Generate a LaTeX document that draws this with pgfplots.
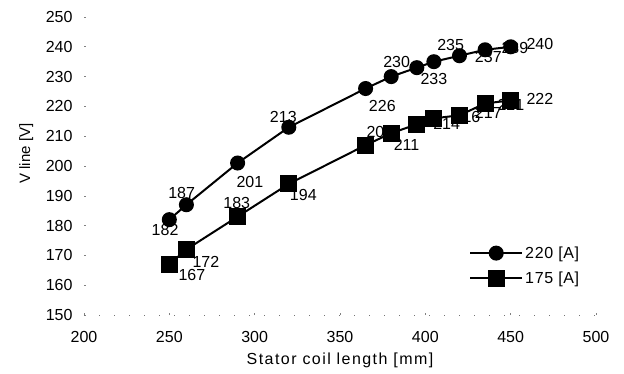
\documentclass[border=0pt]{standalone}
\usepackage{fontspec}
\setmainfont{Liberation Sans}
\newfontfamily\spaced[LetterSpace=9]{Liberation Sans}
\newfontfamily\lspaced[LetterSpace=4]{Liberation Sans}
\usepackage{pgfplots}
\pgfplotsset{compat=1.18}
\begin{document}
\begin{tikzpicture}[x=1bp,y=1bp]
\useasboundingbox (0,0) rectangle (624,373);
\begin{axis}[
  at={(84bp,58bp)}, anchor=south west,
  scale only axis, width=512bp, height=298bp,
  xmin=200, xmax=500, ymin=150, ymax=250,
  xtick={200,250,...,500}, ytick={150,160,...,250},
  axis x line*=bottom, axis y line*=left,
  x axis line style={black!55, dash pattern=on 1bp off 14bp, -},
  y axis line style={draw=none},
  major tick length=2bp,
  tick style={black!50, line width=0.6bp},
  /pgf/number format/assume math mode=true,
  tick label style={font=\fontsize{16bp}{19bp}\selectfont},
  xticklabel style={yshift=-13bp},
  yticklabel style={xshift=-8bp},
  xlabel={\spaced Stator coil length [mm]},
  ylabel={V line [V]},
  every axis x label/.style={at={(axis description cs:0.5,-0.152)}, anchor=center, font=\fontsize{16bp}{19bp}\selectfont},
  every axis y label/.style={at={(axis description cs:-0.113,0.542)}, rotate=90, anchor=center, font=\fontsize{15bp}{18bp}\selectfont},
  legend style={draw=none, fill=none, at={(0.752,0.237)}, anchor=north west,
    font=\fontsize{16bp}{19bp}\selectfont\lspaced, row sep=8bp, inner sep=0pt,
    nodes={inner sep=2bp}},
  legend cell align=left,
  legend image code/.code={\draw[mark repeat=2,mark phase=2,#1] plot coordinates {(0bp,0bp) (26bp,0bp) (52bp,0bp)};},
  clip=false,
]
% data labels, series 220 A
\addplot[draw=none, mark=none, forget plot, nodes near coords, point meta=explicit symbolic,
  every node near coord/.append style={anchor=center, inner sep=0pt, font=\fontsize{16bp}{19bp}\selectfont}]
  coordinates {
  (247.5,178.5) [182]
  (257.2,190.8) [187]
  (297.2,194.7) [201]
  (316.8,216.5) [213]
  (374.8,220.1) [226]
  (383.2,235.0) [230]
  (405.0,229.1) [233]
  (414.8,240.6) [235]
  (436.9,236.7) [237]
  (452.5,239.5) [239]
  (467.1,240.9) [240]
  };
% data labels, series 175 A
\addplot[draw=none, mark=none, forget plot, nodes near coords, point meta=explicit symbolic,
  every node near coord/.append style={anchor=center, inner sep=0pt, font=\fontsize{16bp}{19bp}\selectfont}]
  coordinates {
  (263.2,163.3) [167]
  (271.4,167.9) [172]
  (289.5,187.5) [183]
  (328.5,190.3) [194]
  (373.4,211.5) [207]
  (389.0,207.0) [211]
  (412.5,214.0) [214]
  (424.4,216.4) [216]
  (436.9,217.9) [217]
  (450.1,220.5) [221]
  (467.1,222.4) [222]
  };
\addplot[black, line width=2bp, mark=*, mark size=6.5bp, mark options={solid}]
  coordinates {
  (250,182) (260,187) (290,201) (320,213) (365,226) (380,230)
  (395,233) (405,235) (420,237) (435,239) (450,240)
  };
\addlegendentry{220 [A]}
\addplot[black, line width=2bp, mark=square*, mark size=7.5bp, mark options={solid}]
  coordinates {
  (250,167) (260,172) (290,183) (320,194) (365,207) (380,211)
  (395,214) (405,216) (420,217) (435,221) (450,222)
  };
\addlegendentry{175 [A]}
\end{axis}
\end{tikzpicture}
\end{document}
